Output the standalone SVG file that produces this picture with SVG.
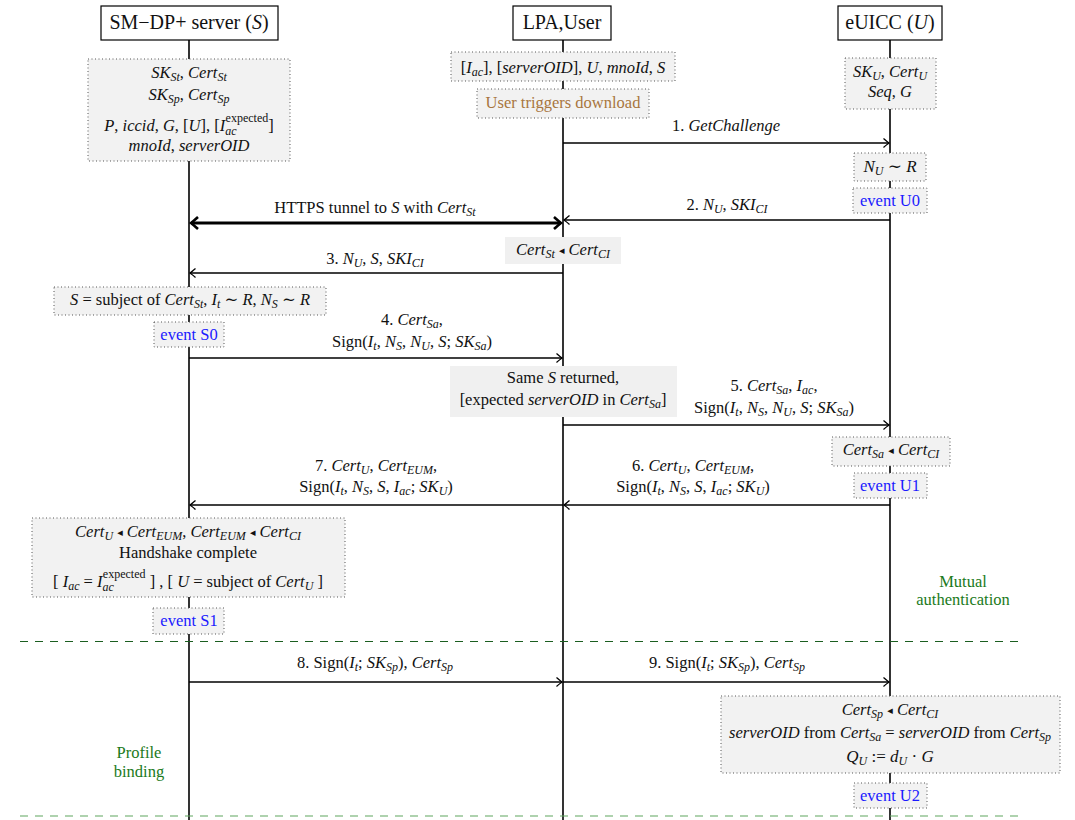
<svg xmlns="http://www.w3.org/2000/svg" width="1075" height="820" viewBox="0 0 1075 820">
<style>
text{font-family:"Liberation Serif","DejaVu Serif",serif;font-size:16.5px;fill:#111;text-anchor:middle}
.it{font-style:italic}
.sb{font-size:12px;font-style:italic}
.sp{font-size:12px}
.tri{font-size:11px}
.hd{font-size:20px}
.ev{fill:#1a1aff}
.gr{fill:#1b7a1b}
.br{fill:#a8763e}
.hbox{fill:#fff;stroke:#000;stroke-width:1.2}
.dbox{fill:#f2f2f2;stroke:#555;stroke-width:1;stroke-dasharray:1 2.5}
.gbox{fill:#f0f0f0;stroke:none}
.life{stroke:#000;stroke-width:1.6}
.msg{stroke:#000;stroke-width:1.3;fill:none;marker-end:url(#ah)}
.sep{stroke:#1b5e20;stroke-width:1.2;stroke-dasharray:8 7}
</style>
<defs>
<marker id="ah" markerUnits="userSpaceOnUse" markerWidth="12" markerHeight="12" viewBox="-7 -6 8 12" refX="0" refY="0" orient="auto">
<path d="M-5.5,-4.5 Q-1.5,-1 0,0 Q-1.5,1 -5.5,4.5" fill="none" stroke="#000" stroke-width="1.3"/>
</marker>
<marker id="ahb" markerUnits="userSpaceOnUse" markerWidth="16" markerHeight="16" viewBox="-9 -8 10 16" refX="0" refY="0" orient="auto-start-reverse">
<path d="M-7,-6 Q-2,-1.5 0,0 Q-2,1.5 -7,6" fill="none" stroke="#000" stroke-width="2.6"/>
</marker>
</defs>
<rect width="1075" height="820" fill="#fff"/>

<g id="lifelines">
<line class="life" x1="189" y1="40" x2="189" y2="820"/>
<line class="life" x1="563" y1="40" x2="563" y2="820"/>
<line class="life" x1="890" y1="40" x2="890" y2="820"/>
</g>

<g id="separators">
<line class="sep" x1="20" y1="641.5" x2="1024" y2="641.5"/>
<line class="sep" x1="20" y1="816" x2="1024" y2="816" style="stroke:#5fa55f"/>
</g>

<g id="connectors">
<line class="msg" x1="563" y1="143" x2="889" y2="143"/>
<line class="msg" x1="890" y1="220" x2="564" y2="220"/>
<line x1="191" y1="223" x2="561" y2="223" stroke="#000" stroke-width="3" marker-start="url(#ahb)" marker-end="url(#ahb)"/>
<line class="msg" x1="563" y1="273" x2="190" y2="273"/>
<line class="msg" x1="189" y1="358" x2="562" y2="358"/>
<line class="msg" x1="563" y1="425" x2="889" y2="425"/>
<line class="msg" x1="890" y1="505" x2="564" y2="505"/>
<line class="msg" x1="563" y1="505" x2="190" y2="505"/>
<line class="msg" x1="189" y1="682" x2="562" y2="682"/>
<line class="msg" x1="563" y1="682" x2="889" y2="682"/>
</g>

<g id="msg-labels">
<text x="726" y="131">1. <tspan class="it">GetChallenge</tspan></text>
<text x="727" y="210">2. <tspan class="it">N</tspan><tspan class="sb" dy="3">U</tspan><tspan dy="-3">, </tspan><tspan class="it">SKI</tspan><tspan class="sb" dy="3">CI</tspan></text>
<text x="375" y="213">HTTPS tunnel to <tspan class="it">S</tspan> with <tspan class="it">Cert</tspan><tspan class="sb" dy="3">St</tspan></text>
<text x="375" y="264">3. <tspan class="it">N</tspan><tspan class="sb" dy="3">U</tspan><tspan dy="-3">, </tspan><tspan class="it">S</tspan>, <tspan class="it">SKI</tspan><tspan class="sb" dy="3">CI</tspan></text>
<text x="412" y="325">4. <tspan class="it">Cert</tspan><tspan class="sb" dy="3">Sa</tspan><tspan dy="-3">,</tspan></text>
<text x="412" y="347">Sign(<tspan class="it">I</tspan><tspan class="sb" dy="3">t</tspan><tspan dy="-3">, </tspan><tspan class="it">N</tspan><tspan class="sb" dy="3">S</tspan><tspan dy="-3">, </tspan><tspan class="it">N</tspan><tspan class="sb" dy="3">U</tspan><tspan dy="-3">, </tspan><tspan class="it">S</tspan>; <tspan class="it">SK</tspan><tspan class="sb" dy="3">Sa</tspan><tspan dy="-3">)</tspan></text>
<text x="774" y="391">5. <tspan class="it">Cert</tspan><tspan class="sb" dy="3">Sa</tspan><tspan dy="-3">, </tspan><tspan class="it">I</tspan><tspan class="sb" dy="3">ac</tspan><tspan dy="-3">,</tspan></text>
<text x="774" y="413">Sign(<tspan class="it">I</tspan><tspan class="sb" dy="3">t</tspan><tspan dy="-3">, </tspan><tspan class="it">N</tspan><tspan class="sb" dy="3">S</tspan><tspan dy="-3">, </tspan><tspan class="it">N</tspan><tspan class="sb" dy="3">U</tspan><tspan dy="-3">, </tspan><tspan class="it">S</tspan>; <tspan class="it">SK</tspan><tspan class="sb" dy="3">Sa</tspan><tspan dy="-3">)</tspan></text>
<text x="693" y="471">6. <tspan class="it">Cert</tspan><tspan class="sb" dy="3">U</tspan><tspan dy="-3">, </tspan><tspan class="it">Cert</tspan><tspan class="sb" dy="3">EUM</tspan><tspan dy="-3">,</tspan></text>
<text x="693" y="492">Sign(<tspan class="it">I</tspan><tspan class="sb" dy="3">t</tspan><tspan dy="-3">, </tspan><tspan class="it">N</tspan><tspan class="sb" dy="3">S</tspan><tspan dy="-3">, </tspan><tspan class="it">S</tspan>, <tspan class="it">I</tspan><tspan class="sb" dy="3">ac</tspan><tspan dy="-3">; </tspan><tspan class="it">SK</tspan><tspan class="sb" dy="3">U</tspan><tspan dy="-3">)</tspan></text>
<text x="376" y="471">7. <tspan class="it">Cert</tspan><tspan class="sb" dy="3">U</tspan><tspan dy="-3">, </tspan><tspan class="it">Cert</tspan><tspan class="sb" dy="3">EUM</tspan><tspan dy="-3">,</tspan></text>
<text x="376" y="492">Sign(<tspan class="it">I</tspan><tspan class="sb" dy="3">t</tspan><tspan dy="-3">, </tspan><tspan class="it">N</tspan><tspan class="sb" dy="3">S</tspan><tspan dy="-3">, </tspan><tspan class="it">S</tspan>, <tspan class="it">I</tspan><tspan class="sb" dy="3">ac</tspan><tspan dy="-3">; </tspan><tspan class="it">SK</tspan><tspan class="sb" dy="3">U</tspan><tspan dy="-3">)</tspan></text>
<text x="375" y="668">8. Sign(<tspan class="it">I</tspan><tspan class="sb" dy="3">t</tspan><tspan dy="-3">; </tspan><tspan class="it">SK</tspan><tspan class="sb" dy="3">Sp</tspan><tspan dy="-3">), </tspan><tspan class="it">Cert</tspan><tspan class="sb" dy="3">Sp</tspan></text>
<text x="727" y="668">9. Sign(<tspan class="it">I</tspan><tspan class="sb" dy="3">t</tspan><tspan dy="-3">; </tspan><tspan class="it">SK</tspan><tspan class="sb" dy="3">Sp</tspan><tspan dy="-3">), </tspan><tspan class="it">Cert</tspan><tspan class="sb" dy="3">Sp</tspan></text>
</g>

<g id="hdr-S">
<rect class="hbox" x="101" y="6" width="177" height="34"/>
<text class="hd" x="189" y="29">SM−DP+ server (<tspan class="it">S</tspan>)</text>
</g>
<g id="hdr-LPA">
<rect class="hbox" x="513" y="6" width="98" height="34"/>
<text class="hd" x="562" y="29">LPA,User</text>
</g>
<g id="hdr-U">
<rect class="hbox" x="838" y="6" width="104" height="34"/>
<text class="hd" x="890" y="29">eUICC (<tspan class="it">U</tspan>)</text>
</g>

<g id="S-init">
<rect class="dbox" x="88" y="59" width="202" height="102"/>
<text x="189" y="78"><tspan class="it">SK</tspan><tspan class="sb" dy="3">St</tspan><tspan dy="-3">, </tspan><tspan class="it">Cert</tspan><tspan class="sb" dy="3">St</tspan></text>
<text x="189" y="100"><tspan class="it">SK</tspan><tspan class="sb" dy="3">Sp</tspan><tspan dy="-3">, </tspan><tspan class="it">Cert</tspan><tspan class="sb" dy="3">Sp</tspan></text>
<text x="189" y="131"><tspan class="it">P</tspan>, <tspan class="it">iccid</tspan>, <tspan class="it">G</tspan>, [<tspan class="it">U</tspan>], [<tspan class="it">I</tspan><tspan class="sb" dy="4">ac</tspan><tspan class="sp" dx="-11" dy="-13">expected</tspan><tspan dy="9">]</tspan></text>
<text x="189" y="151"><tspan class="it">mnoId</tspan>, <tspan class="it">serverOID</tspan></text>
</g>

<g id="LPA-init">
<rect class="dbox" x="451" y="52" width="224" height="29"/>
<text x="563" y="73">[<tspan class="it">I</tspan><tspan class="sb" dy="3">ac</tspan><tspan dy="-3">], [</tspan><tspan class="it">serverOID</tspan>], <tspan class="it">U</tspan>, <tspan class="it">mnoId</tspan>, <tspan class="it">S</tspan></text>
</g>
<g id="LPA-trigger">
<rect class="dbox" x="477" y="89" width="172" height="29"/>
<text class="br" x="563" y="108">User triggers download</text>
</g>

<g id="U-init">
<rect class="dbox" x="845" y="58" width="91" height="51"/>
<text x="890" y="77"><tspan class="it">SK</tspan><tspan class="sb" dy="3">U</tspan><tspan dy="-3">, </tspan><tspan class="it">Cert</tspan><tspan class="sb" dy="3">U</tspan></text>
<text x="890" y="97"><tspan class="it">Seq</tspan>, <tspan class="it">G</tspan></text>
</g>

<g id="U-nonce">
<rect class="dbox" x="854" y="153" width="72" height="28"/>
<text x="890" y="172" style="font-size:17px"><tspan class="it">N</tspan><tspan class="sb" dy="3">U</tspan><tspan dy="-3"> ∼ </tspan><tspan class="it">R</tspan></text>
</g>
<g id="event-U0">
<rect class="dbox" x="853" y="188" width="74" height="25"/>
<text class="ev" x="890" y="206">event U0</text>
</g>

<g id="LPA-check1">
<rect class="gbox" x="505" y="237" width="116" height="27"/>
<text x="563" y="255"><tspan class="it">Cert</tspan><tspan class="sb" dy="3">St</tspan><tspan dy="-3"> </tspan><tspan class="tri" dy="-1">◂</tspan><tspan dy="1"> </tspan><tspan class="it">Cert</tspan><tspan class="sb" dy="3">CI</tspan></text>
</g>

<g id="S-gen">
<rect class="dbox" x="54" y="287" width="272" height="28"/>
<text x="190" y="305"><tspan class="it">S</tspan> =  subject of <tspan class="it">Cert</tspan><tspan class="sb" dy="3">St</tspan><tspan dy="-3">, </tspan><tspan class="it">I</tspan><tspan class="sb" dy="3">t</tspan><tspan dy="-3"> ∼ </tspan><tspan class="it">R</tspan>, <tspan class="it">N</tspan><tspan class="sb" dy="3">S</tspan><tspan dy="-3"> ∼ </tspan><tspan class="it">R</tspan></text>
</g>
<g id="event-S0">
<rect class="dbox" x="154" y="322" width="70" height="25"/>
<text class="ev" x="189" y="340">event S0</text>
</g>

<g id="LPA-check2">
<rect class="gbox" x="450" y="366" width="227" height="51"/>
<text x="563" y="383">Same <tspan class="it">S</tspan> returned,</text>
<text x="563" y="405">[expected <tspan class="it">serverOID</tspan> in <tspan class="it">Cert</tspan><tspan class="sb" dy="3">Sa</tspan><tspan dy="-3">]</tspan></text>
</g>

<g id="U-check1">
<rect class="dbox" x="832" y="437" width="118" height="29"/>
<text x="891" y="455"><tspan class="it">Cert</tspan><tspan class="sb" dy="3">Sa</tspan><tspan dy="-3"> </tspan><tspan class="tri" dy="-1">◂</tspan><tspan dy="1"> </tspan><tspan class="it">Cert</tspan><tspan class="sb" dy="3">CI</tspan></text>
</g>
<g id="event-U1">
<rect class="dbox" x="854" y="473" width="73" height="25"/>
<text class="ev" x="890" y="491">event U1</text>
</g>

<g id="S-check">
<rect class="dbox" x="32" y="518" width="313" height="79"/>
<text x="188" y="537"><tspan class="it">Cert</tspan><tspan class="sb" dy="3">U</tspan><tspan dy="-3"> </tspan><tspan class="tri" dy="-1">◂</tspan><tspan dy="1"> </tspan><tspan class="it">Cert</tspan><tspan class="sb" dy="3">EUM</tspan><tspan dy="-3">, </tspan><tspan class="it">Cert</tspan><tspan class="sb" dy="3">EUM</tspan><tspan dy="-3"> </tspan><tspan class="tri" dy="-1">◂</tspan><tspan dy="1"> </tspan><tspan class="it">Cert</tspan><tspan class="sb" dy="3">CI</tspan></text>
<text x="188" y="558">Handshake complete</text>
<text x="188" y="587">[ <tspan class="it">I</tspan><tspan class="sb" dy="3">ac</tspan><tspan dy="-3"> = </tspan><tspan class="it">I</tspan><tspan class="sb" dy="4">ac</tspan><tspan class="sp" dx="-11" dy="-13">expected</tspan><tspan dy="9">  ] , [ </tspan><tspan class="it">U</tspan> =  subject of <tspan class="it">Cert</tspan><tspan class="sb" dy="3">U</tspan><tspan dy="-3">  ]</tspan></text>
</g>
<g id="event-S1">
<rect class="dbox" x="153" y="608" width="71" height="26"/>
<text class="ev" x="189" y="626">event S1</text>
</g>

<g id="phase-mutual">
<text class="gr" x="963" y="587">Mutual</text>
<text class="gr" x="963" y="605">authentication</text>
</g>

<g id="U-check2">
<rect class="dbox" x="721" y="696" width="339" height="77"/>
<text x="890" y="715"><tspan class="it">Cert</tspan><tspan class="sb" dy="3">Sp</tspan><tspan dy="-3"> </tspan><tspan class="tri" dy="-1">◂</tspan><tspan dy="1"> </tspan><tspan class="it">Cert</tspan><tspan class="sb" dy="3">CI</tspan></text>
<text x="890" y="738"><tspan class="it">serverOID</tspan> from <tspan class="it">Cert</tspan><tspan class="sb" dy="3">Sa</tspan><tspan dy="-3"> = </tspan><tspan class="it">serverOID</tspan> from <tspan class="it">Cert</tspan><tspan class="sb" dy="3">Sp</tspan></text>
<text x="890" y="762" style="font-size:17px"><tspan class="it">Q</tspan><tspan class="sb" dy="3">U</tspan><tspan dy="-3"> := </tspan><tspan class="it">d</tspan><tspan class="sb" dy="3">U</tspan><tspan dy="-3"> · </tspan><tspan class="it">G</tspan></text>
</g>
<g id="event-U2">
<rect class="dbox" x="854" y="783" width="73" height="25"/>
<text class="ev" x="890" y="801">event U2</text>
</g>

<g id="phase-profile">
<text class="gr" x="139" y="758">Profile</text>
<text class="gr" x="139" y="777">binding</text>
</g>
</svg>
